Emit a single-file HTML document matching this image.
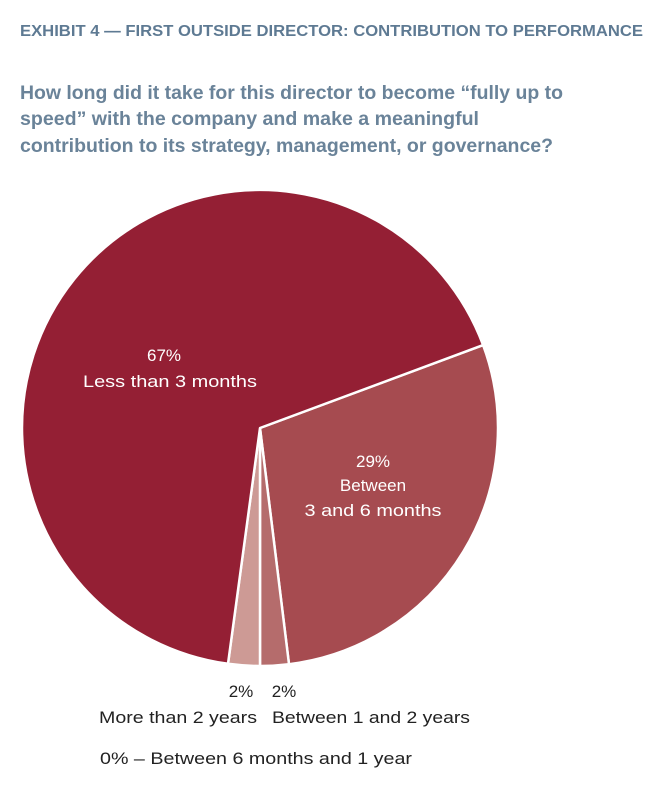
<!DOCTYPE html>
<html><head><meta charset="utf-8"><style>
html,body{margin:0;padding:0;background:#fff;}
svg{display:block;}
</style></head><body>
<svg width="658" height="800" viewBox="0 0 658 800" xmlns="http://www.w3.org/2000/svg" font-family="Liberation Sans, sans-serif">
<text x="20" y="36" font-size="16" font-weight="bold" fill="#5E7A93" textLength="623" lengthAdjust="spacingAndGlyphs">EXHIBIT 4 — FIRST OUTSIDE DIRECTOR: CONTRIBUTION TO PERFORMANCE</text>
<g font-size="19" font-weight="bold" fill="#6A8399">
<text x="20" y="99" textLength="543" lengthAdjust="spacingAndGlyphs">How long did it take for this director to become “fully up to</text>
<text x="20" y="125" textLength="459" lengthAdjust="spacingAndGlyphs">speed” with the company and make a meaningful</text>
<text x="20" y="152" textLength="533" lengthAdjust="spacingAndGlyphs">contribution to its strategy, management, or governance?</text>
</g>
<g stroke="#fff" stroke-width="2.5" stroke-linejoin="round">
<path d="M260,428 L483.1,345.1 A238,238 0 0,1 289.0,664.2 Z" fill="#A64B50"/>
<path d="M260,428 L289.0,664.2 A238,238 0 0,1 260,666 Z" fill="#B56C6C"/>
<path d="M260,428 L260,666 A238,238 0 0,1 228.0,663.8 Z" fill="#CD9A95"/>
<path d="M260,428 L228.0,663.8 A238,238 0 1,1 483.1,345.1 Z" fill="#941F34"/>
</g>
<g font-size="17" fill="#fff" text-anchor="middle">
<text x="164" y="361">67%</text>
<text x="170" y="387" textLength="174" lengthAdjust="spacingAndGlyphs">Less than 3 months</text>
<text x="373" y="467">29%</text>
<text x="373" y="491">Between</text>
<text x="373" y="516" textLength="137" lengthAdjust="spacingAndGlyphs">3 and 6 months</text>
</g>
<g font-size="17" fill="#222">
<text x="241" y="697" text-anchor="middle">2%</text>
<text x="284" y="697" text-anchor="middle">2%</text>
<text x="99" y="723" textLength="158" lengthAdjust="spacingAndGlyphs">More than 2 years</text>
<text x="272" y="723" textLength="198" lengthAdjust="spacingAndGlyphs">Between 1 and 2 years</text>
<text x="100" y="764" textLength="312" lengthAdjust="spacingAndGlyphs">0% – Between 6 months and 1 year</text>
</g>
</svg>
</body></html>
